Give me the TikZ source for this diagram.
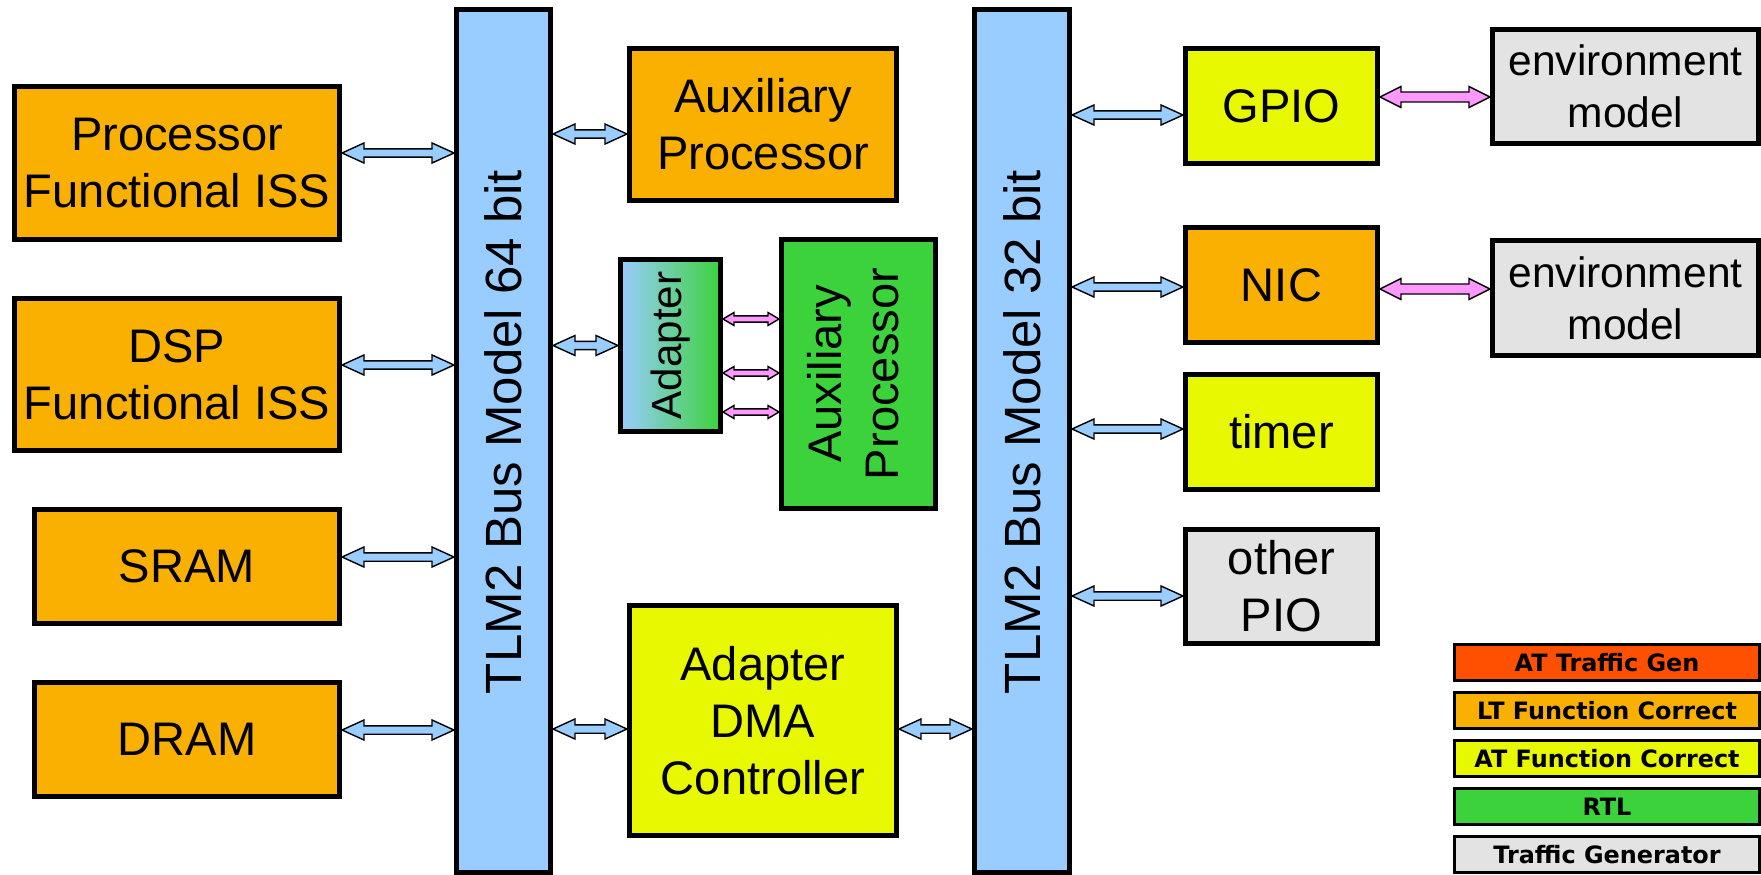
\documentclass[tikz,border=0pt]{standalone}
\usepackage{fontspec}
\setmainfont{Liberation Sans}
\newfontfamily\legendfont{DejaVu Sans}
\usepackage{xcolor}
\usetikzlibrary{positioning, calc}

\definecolor{ltorange}{HTML}{F9B000}
\definecolor{atyellow}{HTML}{E8F800}
\definecolor{rtlgreen}{HTML}{3CD23C}
\definecolor{tggray}{HTML}{E3E3E3}
\definecolor{atred}{HTML}{FF5000}
\definecolor{busblue}{HTML}{99CCFF}
\definecolor{linkpink}{HTML}{FF99FF}

% block double arrow: fill, head length, head half width, shaft half width, start (gives y), far anchor
\newcommand{\dblarrow}[6]{%
  \draw[arrowline, fill=#1] let \p1=#5, \p2=(#6), \n1={ifthenelse(\x2>\x1,1,-1)} in
    (\x1,\y1) -- ({\x1+\n1*#2},{\y1+#3}) -- ({\x1+\n1*#2},{\y1+#4})
    -- ({\x2-\n1*#2},{\y1+#4}) -- ({\x2-\n1*#2},{\y1+#3}) -- (\x2,\y1)
    -- ({\x2-\n1*#2},{\y1-#3}) -- ({\x2-\n1*#2},{\y1-#4})
    -- ({\x1+\n1*#2},{\y1-#4}) -- ({\x1+\n1*#2},{\y1-#3}) -- cycle;}
\newcommand{\busarrow}[2]{\dblarrow{busblue}{2.2mm}{1.0mm}{0.42mm}{#1}{#2}}
\newcommand{\envarrow}[2]{\dblarrow{linkpink}{2.1mm}{1.05mm}{0.5mm}{#1}{#2}}
\newcommand{\pinarrow}[2]{\dblarrow{linkpink}{1.1mm}{0.65mm}{0.32mm}{#1}{#2}}

\begin{document}
\begin{tikzpicture}[
        font=\fontsize{13.4}{16.2}\selectfont,
        node distance = 5.4mm and 10mm,
        every node/.style = {align=center},
        block/.style  = {rectangle, draw=black, line width=0.5mm, inner sep=1pt},
        ltbox/.style  = {block, fill=ltorange},
        atbox/.style  = {block, fill=atyellow},
        rtlbox/.style = {block, fill=rtlgreen},
        tgbox/.style  = {block, fill=tggray},
        bus/.style    = {block, fill=busblue, minimum width=9.4mm, minimum height=86.3mm,
                         font=\fontsize{14.5}{17}\selectfont},
        key/.style    = {rectangle, draw=black, line width=0.3mm, minimum width=30.5mm,
                         minimum height=3.6mm, inner sep=0pt,
                         font=\legendfont\bfseries\fontsize{6.8}{8}\selectfont},
        arrowline/.style = {draw=black, line width=0.4pt, line join=miter}
    ]

    \useasboundingbox (0,0) rectangle (176.1mm,-87.5mm);

    % --- 64 bit bus and the left column ---
    \node[bus] (bus64) at (50.35mm,-44.1mm) {\rotatebox{90}{\hspace*{1.8mm}TLM2 Bus Model 64 bit}};
    \node[ltbox, minimum width=32.5mm, minimum height=15.3mm] (proc) at (17.7mm,-16.3mm) {Processor\\Functional ISS};
    \node[ltbox, minimum width=32.5mm, minimum height=15.2mm, below=of proc] (dsp) {DSP\\Functional ISS};
    \node[ltbox, minimum width=30.5mm, minimum height=11.4mm, below=of dsp.south east, anchor=north east] (sram) {SRAM};
    \node[ltbox, minimum width=30.5mm, minimum height=11.4mm, below=of sram] (dram) {DRAM};

    % --- middle column ---
    \node[ltbox, minimum width=26.7mm, minimum height=15.2mm] (auxp) at (76.3mm,-12.45mm) {Auxiliary\\Processor};
    \node[block, left color=busblue, right color=rtlgreen, minimum width=10mm, minimum height=17.2mm,
          font=\fontsize{12}{14}\selectfont] (adapter) at (67.05mm,-34.55mm) {\rotatebox{90}{Adapter}};
    \node[rtlbox, minimum width=15.4mm, minimum height=26.9mm] (auxrtl) at (85.85mm,-37.4mm)
         {\rotatebox{90}{\begin{tabular}{@{}c@{}}Auxiliary\\Processor\end{tabular}}};
    \node[atbox, minimum width=26.7mm, minimum height=23mm] (dma) at (76.3mm,-72.05mm) {Adapter\\DMA\\Controller};

    % --- 32 bit bus and the peripherals ---
    \node[bus, minimum width=9.5mm] (bus32) at (102.2mm,-44.1mm) {\rotatebox{90}{\hspace*{1.8mm}TLM2 Bus Model 32 bit}};
    \node[atbox, minimum width=19.2mm, minimum height=11.5mm] (gpio) at (128.15mm,-10.6mm) {GPIO};
    \node[ltbox, minimum width=19.2mm, minimum height=11.5mm, below=5.9mm of gpio] (nic) {NIC};
    \node[atbox, minimum width=19.2mm, minimum height=11.5mm, below=2.7mm of nic] (timer) {timer};
    \node[tgbox, minimum width=19.2mm, minimum height=11.4mm, below=3.5mm of timer] (pio) {other\\PIO};

    % environment models
    \node[tgbox, minimum width=26.6mm, minimum height=11.4mm, font=\fontsize{12.1}{14.8}\selectfont]
         (env1) at (162.55mm,-8.65mm) {environment\\model};
    \node[tgbox, minimum width=26.6mm, minimum height=11.5mm, font=\fontsize{12.1}{14.8}\selectfont]
         (env2) at (162.55mm,-29.8mm) {environment\\model};

    % --- legend ---
    \node[key, fill=atred] (keyatg) at (160.7mm,-66.25mm) {AT Traffic Gen};
    \node[key, fill=ltorange, below=0.9mm of keyatg] (keylt)  {LT Function Correct};
    \node[key, fill=atyellow, below=0.9mm of keylt]  (keyat)  {AT Function Correct};
    \node[key, fill=rtlgreen, below=0.9mm of keyat]  (keyrtl) {RTL};
    \node[key, fill=tggray,   below=0.9mm of keyrtl] (keytg)  {Traffic Generator};

    % --- bus links ---
    \busarrow{($(proc.east)+(0,1mm)$)}{bus64.west}
    \busarrow{($(dsp.east)+(0,0.95mm)$)}{bus64.west}
    \busarrow{($(sram.east)+(0,0.95mm)$)}{bus64.west}
    \busarrow{($(dram.east)+(0,0.95mm)$)}{bus64.west}
    \busarrow{($(auxp.west)+(0,-0.95mm)$)}{bus64.east}
    \busarrow{(adapter.west)}{bus64.east}
    \busarrow{($(dma.west)+(0,-0.85mm)$)}{bus64.east}
    \busarrow{($(dma.east)+(0,-0.85mm)$)}{bus32.west}
    \busarrow{($(gpio.west)+(0,-0.9mm)$)}{bus32.east}
    \busarrow{($(nic.west)+(0,-0.2mm)$)}{bus32.east}
    \busarrow{($(timer.west)+(0,0.3mm)$)}{bus32.east}
    \busarrow{($(pio.west)+(0,-0.95mm)$)}{bus32.east}

    % --- pin level links ---
    \envarrow{($(env1.west)+(0,-1.05mm)$)}{gpio.east}
    \envarrow{($(env2.west)+(0,0.9mm)$)}{nic.east}
    \pinarrow{($(adapter.east)+(0,2.65mm)$)}{auxrtl.west}
    \pinarrow{($(adapter.east)+(0,-2.75mm)$)}{auxrtl.west}
    \pinarrow{($(adapter.east)+(0,-6.65mm)$)}{auxrtl.west}

\end{tikzpicture}
\end{document}
